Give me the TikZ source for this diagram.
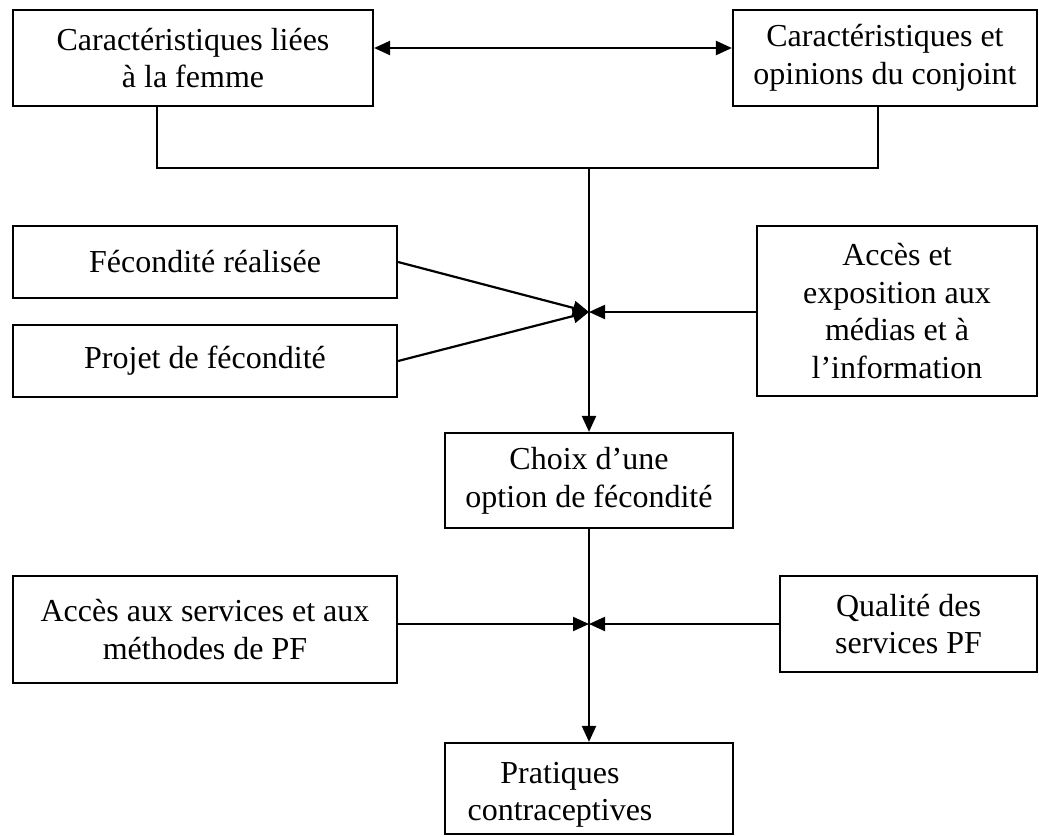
\documentclass[tikz,border=0pt]{standalone}
\usepackage{fontspec}
\setmainfont{Liberation Serif}
\usetikzlibrary{arrows.meta}
\begin{document}
\begin{tikzpicture}[x=0.5pt,y=-0.5pt,
  txt/.style={inner sep=0pt, align=center, font=\fontsize{16}{18.8}\selectfont},
  box/.style={txt, draw, line width=1.1pt, rectangle},
  conn/.style={line width=1.1pt},
  arr/.style={conn, -{Triangle[length=8pt,width=7pt]}},
  darr/.style={conn, {Triangle[length=8pt,width=7pt]}-{Triangle[length=8pt,width=7pt]}}]
\useasboundingbox (0,0) rectangle (1039,836);

\node[box, minimum width=180pt, minimum height=48pt] (b1) at (193,58) {Caractéristiques liées\\à la femme};
\node[box, minimum width=152pt, minimum height=48pt] (b2) at (885,58) {Caractéristiques et\\opinions du conjoint};
\node[box, minimum width=192pt, minimum height=36pt] (fec) at (205,262) {Fécondité réalisée};
\node[box, minimum width=192pt, minimum height=36pt] (proj) at (205,361) {Projet de fécondité};
\node[box, minimum width=140pt, minimum height=85pt] (med) at (897,311) {Accès et\\exposition aux\\médias et à\\l’information};
\node[box, minimum width=144pt, minimum height=47.5pt] (choix) at (589,480.5) {Choix d’une\\option de fécondité};
\node[box, minimum width=192pt, minimum height=53.5pt] (serv) at (205,629.5) {Accès aux services et aux\\méthodes de PF};
\node[box, minimum width=128.5pt, minimum height=48pt] (qual) at (908.5,624) {Qualité des\\services PF};
\node[box, minimum width=144pt, minimum height=45.5pt] (prat) at (589,788.5) {};
\node[txt] (pratT) at (560,795) {Pratiques\\contraceptives};

\coordinate (j1) at (157,168);
\coordinate (j2) at (878,168);
\coordinate (top) at (589,168);
\coordinate (m1) at (589,312);
\coordinate (m2) at (589,624);

\draw[darr] ([yshift=5pt]b1.east) -- ([yshift=5pt]b2.west);
\draw[conn] (b1.south -| j1) -- (j1) -- (j2) -- (b2.south -| j2);
\draw[arr] (top) -- (choix.north);
\draw[arr] (fec.east) -- (m1);
\draw[arr] (proj.east) -- (m1);
\draw[arr] (med.west |- m1) -- (m1);
\draw[arr] (choix.south) -- (prat.north);
\draw[arr] (serv.east |- m2) -- (m2);
\draw[arr] (qual.west |- m2) -- (m2);
\end{tikzpicture}
\end{document}
